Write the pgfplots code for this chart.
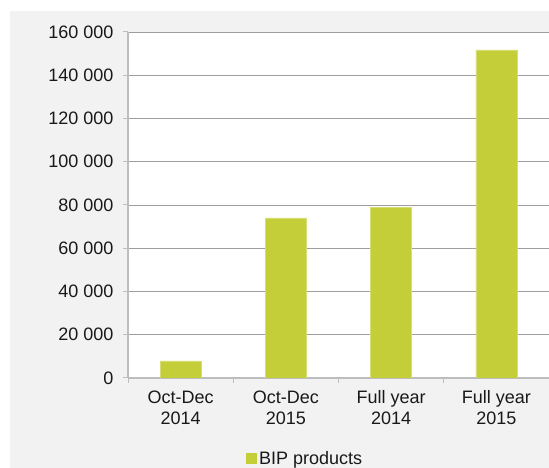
\documentclass[border=0pt]{standalone}
\usepackage{pgfplots}
\pgfplotsset{compat=1.18}
\usepackage{fontspec}
\setmainfont{Liberation Sans}
\definecolor{bg}{HTML}{F2F2F2}
\definecolor{barc}{HTML}{C3CE38}
\definecolor{gridc}{HTML}{9E9E9E}
\definecolor{axc}{HTML}{BDBDBD}
\begin{document}
\begin{tikzpicture}[x=1pt,y=1pt]
\useasboundingbox (0,0) rectangle (549,468);
\fill[bg] (10,0) rectangle (549,457);
\begin{axis}[
  at={(128pt,90pt)}, anchor=south west,
  scale only axis, width=421pt, height=346pt,
  xmin=-0.5, xmax=3.5, ymin=0, ymax=160000,
  scaled y ticks=false,
  axis background/.style={fill=white},
  axis lines*=left,
  axis line style={axc, line width=1.2pt},
  ybar, bar width=41pt, bar shift=0pt,
  ymajorgrids, grid style={gridc, line width=0.8pt},
  tick align=outside, major tick length=5pt,
  tick style={axc, line width=1pt},
  ytick={0,20000,40000,60000,80000,100000,120000,140000,160000},
  yticklabels={0,20 000,40 000,60 000,80 000,100 000,120 000,140 000,160 000},
  xtick={-0.5,0.5,1.5,2.5}, xticklabels={},
  extra x ticks={0,1,2,3},
  extra x tick labels={{Oct-Dec\\2014},{Oct-Dec\\2015},{Full year\\2014},{Full year\\2015}},
  extra x tick style={major tick length=0pt},
  ticklabel style={font=\fontsize{18}{21}\selectfont, text=black!90},
  xticklabel style={align=center, yshift=-9pt},
  yticklabel style={xshift=-6pt},
  legend style={at={(0.421,-0.232)}, anchor=center, draw=none, fill=none,
    font=\fontsize{18}{22}\selectfont, text=black!90},
  legend image code/.code={\fill[barc] (-1pt,-5pt) rectangle (9pt,5pt);},
]
\addplot[fill=barc, draw=barc!70!white, line width=0.6pt] coordinates {(0,7900) (1,74000) (2,79000) (3,151700)};
\addlegendentry{BIP products}
\end{axis}
\end{tikzpicture}
\end{document}
